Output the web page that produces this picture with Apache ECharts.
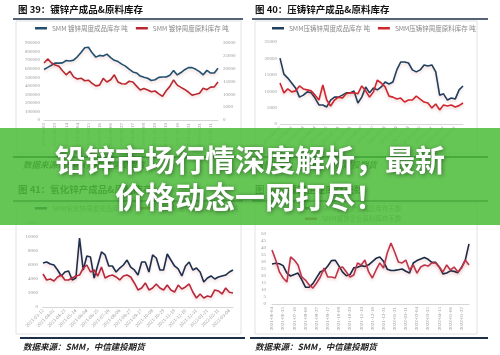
<!DOCTYPE html>
<html>
<head>
    <meta charset="utf-8">
    <title></title>
    <script type="text/javascript" src="https://cdn.jsdelivr.net/npm/echarts/dist/echarts.min.js"></script>
</head>
<body style="margin:0;background:#fff;">

<div id="main" style="width: 500px;height:355px;"></div>
<script type="text/javascript">
    // 图39 镀锌（左轴成品，右轴原料）
    var galvFinished = [590000, 615000, 640000, 666000, 665000, 668000, 695000, 690000, 700000, 738000, 790000, 845000,
        850000, 785000, 735000, 755000, 748000, 770000, 730000, 698000, 683000, 653000, 630000, 594000,
        562000, 550000, 514000, 500000, 488000, 462000, 470000, 498000, 503000, 503000, 524000, 578000,
        527000, 555000, 588000, 612000, 612000, 592000, 565000, 528000, 580000, 549000, 549000, 605000];
    var galvRaw = [22200, 23800, 22300, 21400, 20900, 19200, 17600, 19000, 16800, 16000, 16300, 15300,
        15500, 14300, 13300, 13600, 16200, 14800, 15700, 17600, 14800, 14100, 14000, 15100,
        14800, 13200, 11700, 12300, 11700, 11000, 11300, 10200, 9200, 11400, 13100, 15600,
        13600, 12700, 11900, 10900, 9700, 10000, 10400, 12400, 11800, 12800, 12900, 14800];

    // 图40 压铸锌
    var dieFinished = [20100, 15200, 14000, 12500, 11000, 8200, 8800, 9800, 9500, 7900, 5800, 5800,
        5200, 7300, 8200, 8200, 8800, 9500, 9500, 10100, 6400, 8200, 11300, 9500,
        11000, 10400, 11300, 12800, 12200, 12800, 16500, 18900, 18900, 18600, 16500, 15900,
        16500, 18000, 17700, 18000, 15900, 8800, 9200, 7300, 7900, 7600, 10400, 11600];
    var dieRaw = [12500, 9500, 10700, 9800, 10100, 11600, 10700, 10400, 10100, 8800, 7300, 11900,
        7300, 5500, 7300, 8200, 7900, 9200, 9500, 9500, 9200, 11600, 10100, 8200,
        9800, 13400, 12500, 11300, 8500, 8200, 7600, 7900, 6700, 7300, 7300, 8500,
        7600, 6700, 6400, 4900, 6100, 4300, 5800, 5500, 5800, 5200, 5600, 6400];

    // 图41 氧化锌
    var oxideFinished = [6290, 6430, 6140, 6000, 5290, 4430, 5000, 5140, 3860, 4140, 9860, 5290, 7290, 7140,
        4140, 6000, 7860, 7430, 5860, 5860, 5000, 5570, 6000, 6710, 5710, 5290, 4570, 6430, 6430, 5000,
        7430, 7000, 5290, 5290, 7570, 6710, 5860, 5430, 4430, 5860, 6430, 5290, 5570, 5000, 3570, 4140,
        4430, 4000, 4290, 4430, 4570, 5000, 5290];
    var oxideRaw = [4710, 3860, 4000, 3710, 4290, 4570, 3860, 3860, 4140, 4430, 4570, 5570, 6000, 5000,
        5290, 4430, 5700, 4140, 4430, 4570, 4290, 3860, 4430, 4570, 4290, 3430, 2430, 2710, 3430, 2430,
        2710, 3290, 2710, 2430, 3140, 2430, 2140, 3140, 2570, 2860, 3290, 2140, 1290, 1860, 1290, 1570,
        1430, 2430, 2290, 1860, 2710, 2100, 2000];

    // 图42 库存天数
    var dayFinished = [28.6, 29.1, 28.7, 27.4, 22.0, 20.0, 21.1, 22.1, 17.4, 12.0, 12.0, 14.6, 18.8, 23.0,
        24.0, 27.1, 31.0, 31.3, 27.2, 22.8, 20.2, 21.0, 25.8, 26.3, 27.4, 26.8, 28.0, 30.3, 32.6, 33.6,
        30.5, 24.9, 23.9, 24.0, 24.5, 25.0, 23.4, 22.2, 29.3, 31.0, 32.2, 33.2, 31.9, 29.7, 29.8, 26.5,
        21.5, 22.1, 23.7, 23.3, 22.4, 26.2, 31.3, 42.9];
    var dayRaw = [38.6, 31.4, 22.9, 18.6, 15.7, 33.6, 31.4, 27.9, 19.3, 17.1, 13.6, 11.4, 15.0, 19.3,
        25.7, 19.3, 19.3, 18.6, 25.7, 26.4, 22.9, 19.3, 20.7, 29.3, 27.9, 31.4, 22.9, 18.6, 24.3, 29.3,
        25.7, 36.4, 43.6, 37.1, 30.0, 29.3, 31.4, 24.3, 27.9, 22.1, 26.4, 27.9, 27.1, 29.3, 29.3, 26.4,
        22.9, 27.9, 24.3, 26.4, 22.9, 25.7, 31.4, 27.9];

    // 周度日期
    function weekly(start, n) {
        var out = [], t = Date.parse(start + 'T00:00:00Z');
        for (var i = 0; i < n; i++) {
            out.push(new Date(t + i * 7 * 86400000).toISOString().slice(0, 10));
        }
        return out;
    }
    var dates39 = weekly('2021-04-02', galvFinished.length);
    var dates40 = weekly('2021-04-02', dieFinished.length);
    var dates41 = weekly('2021-03-12', oxideFinished.length);
    var dates42 = weekly('2021-06-04', dayFinished.length);

    var cjk = '"Noto Sans CJK SC", sans-serif';

    function yAxisOf(grid, max, step, pos, margin) {
        return {
            type: 'value', gridIndex: grid, min: 0, max: max, interval: step, position: pos,
            axisLine: {show: false}, axisTick: {show: false}, splitLine: {show: false},
            axisLabel: {fontSize: 5, color: '#999', margin: margin, fontFamily: 'Liberation Serif',
                formatter: function (v) { return String(v); }}
        };
    }

    function xAxisOf(grid, data, rotate) {
        return {
            type: 'category', gridIndex: grid, data: data, boundaryGap: false,
            axisLine: {lineStyle: {color: '#d6d6d6'}},
            axisTick: {show: false},
            axisLabel: {fontSize: 5, color: '#999', rotate: rotate, interval: 2, margin: 3, fontFamily: 'Liberation Serif'}
        };
    }

    function lineOf(name, x, y, data, color) {
        return {
            name: name, type: 'line', xAxisIndex: x, yAxisIndex: y, data: data,
            symbol: 'none', color: color,
            lineStyle: {width: 1.6, color: color, shadowColor: 'rgba(190,60,60,0.22)', shadowBlur: 3, shadowOffsetY: 2}
        };
    }

    function legendOf(left, top, names, orient) {
        return {
            left: left, top: top, orient: orient || 'horizontal', data: names, padding: 0,
            itemWidth: 12, itemHeight: 2.5, itemGap: orient ? 4 : 8, icon: 'rect',
            textStyle: {fontSize: 6.5, color: '#888', fontFamily: cjk}
        };
    }

    function text(x, y, str, font, fill, z) {
        return {type: 'text', x: x, y: y, z: z || 10,
            style: {text: str, font: font, fill: fill, verticalAlign: 'middle'}};
    }

    function rule(x1, x2, y, w) {
        return {type: 'line', z: 10, shape: {x1: x1, y1: y, x2: x2, y2: y},
            style: {stroke: '#1e2f48', lineWidth: w}};
    }

    function frame(x, y, w, h) {
        return {type: 'rect', z: 0, shape: {x: x, y: y, width: w, height: h},
            style: {fill: 'none', stroke: '#e2e2e2', lineWidth: 1}};
    }

    var titleFont = 'bold 9.5px ' + cjk;
    var srcFont = 'italic bold 8.5px ' + cjk;

    var myChart = echarts.init(document.getElementById('main'));

    var option = {
        backgroundColor: '#fff',
        animation: false,
        grid: [
            {left: 44, right: 282, top: 43, bottom: 235, outerBoundsMode: 'none'},
            {left: 280, right: 37, top: 42, bottom: 231, outerBoundsMode: 'none'},
            {left: 43, right: 267, top: 223, bottom: 48, outerBoundsMode: 'none'},
            {left: 272, right: 31, top: 234, bottom: 51, outerBoundsMode: 'none'}
        ],
        xAxis: [
            xAxisOf(0, dates39, 90),
            xAxisOf(1, dates40, 45),
            xAxisOf(2, dates41, 45),
            xAxisOf(3, dates42, 90)
        ],
        yAxis: [
            yAxisOf(0, 900000, 100000, 'left', 4),
            yAxisOf(0, 30000, 5000, 'right', 5),
            yAxisOf(1, 25000, 5000, 'left', 3),
            yAxisOf(2, 12000, 2000, 'left', 5),
            yAxisOf(3, 50, 5, 'left', 6)
        ],
        legend: [
            legendOf(35, 25, ['SMM 镀锌周度成品库存 吨', 'SMM 镀锌周度原料库存 吨']),
            legendOf(272, 25, ['SMM压铸锌周度成品库存 吨', 'SMM压铸锌周度原料库存 吨']),
            legendOf(35, 205, ['SMM氧化锌周度成品库存 吨', 'SMM氧化锌周度原料库存 吨']),
            legendOf(305, 205, ['SMM镀锌企业成品库存天数', 'SMM镀锌企业原料库存天数'], 'vertical')
        ],
        series: [
            lineOf('SMM 镀锌周度成品库存 吨', 0, 0, galvFinished, '#21506e'),
            lineOf('SMM 镀锌周度原料库存 吨', 0, 1, galvRaw, '#b8282e'),
            lineOf('SMM压铸锌周度成品库存 吨', 1, 2, dieFinished, '#1f3f5c'),
            lineOf('SMM压铸锌周度原料库存 吨', 1, 2, dieRaw, '#d0262e'),
            lineOf('SMM氧化锌周度成品库存 吨', 2, 3, oxideFinished, '#1c2f4d'),
            lineOf('SMM氧化锌周度原料库存 吨', 2, 3, oxideRaw, '#b8283a'),
            lineOf('SMM镀锌企业成品库存天数', 3, 4, dayFinished, '#1b2a45'),
            lineOf('SMM镀锌企业原料库存天数', 3, 4, dayRaw, '#c0344a')
        ],
        graphic: [
            frame(16, 21, 225, 132),
            frame(255, 21, 222, 132),
            frame(16, 203, 225, 131),
            frame(255, 203, 222, 131),
            text(18, 9, '图 39：镀锌产成品&原料库存', titleFont, '#111'),
            text(255, 9, '图 40：压铸锌产成品&原料库存', titleFont, '#111'),
            text(18, 189, '图 41：氧化锌产成品&原料库存', titleFont, '#111'),
            text(255, 189, '图 42：镀锌企业库存天数', titleFont, '#111'),
            rule(13, 243, 19, 1.5),
            rule(252, 488, 19, 1.5),
            rule(13, 243, 157, 2),
            rule(252, 488, 157, 2),
            rule(13, 243, 201, 1.5),
            rule(252, 488, 201, 1.5),
            rule(20, 245, 338, 2),
            rule(250, 488, 338, 2),
            text(23, 165, '数据来源：SMM，中信建投期货', srcFont, '#222'),
            text(255, 165, '数据来源：SMM，中信建投期货', srcFont, '#222'),
            text(23, 347, '数据来源：SMM，中信建投期货', srcFont, '#222'),
            text(255, 347, '数据来源：SMM，中信建投期货', srcFont, '#222'),
            // 绿色横幅
            {type: 'rect', z: 100, shape: {x: 0, y: 128, width: 500, height: 97},
                style: {fill: 'rgba(78,188,60,0.87)'}},
            {type: 'text', z: 101, x: 250, y: 160,
                style: {text: '铅锌市场行情深度解析，最新', font: 'bold 30px ' + cjk, fill: '#fff',
                    align: 'center', verticalAlign: 'middle',
                    textShadowColor: 'rgba(0,0,0,0.45)', textShadowBlur: 4, textShadowOffsetX: 1, textShadowOffsetY: 1}},
            {type: 'text', z: 101, x: 250, y: 197,
                style: {text: '价格动态一网打尽！', font: 'bold 30px ' + cjk, fill: '#fff',
                    align: 'center', verticalAlign: 'middle',
                    textShadowColor: 'rgba(0,0,0,0.45)', textShadowBlur: 4, textShadowOffsetX: 1, textShadowOffsetY: 1}}
        ]
    };

    myChart.setOption(option);
</script>

</body>
</html>
